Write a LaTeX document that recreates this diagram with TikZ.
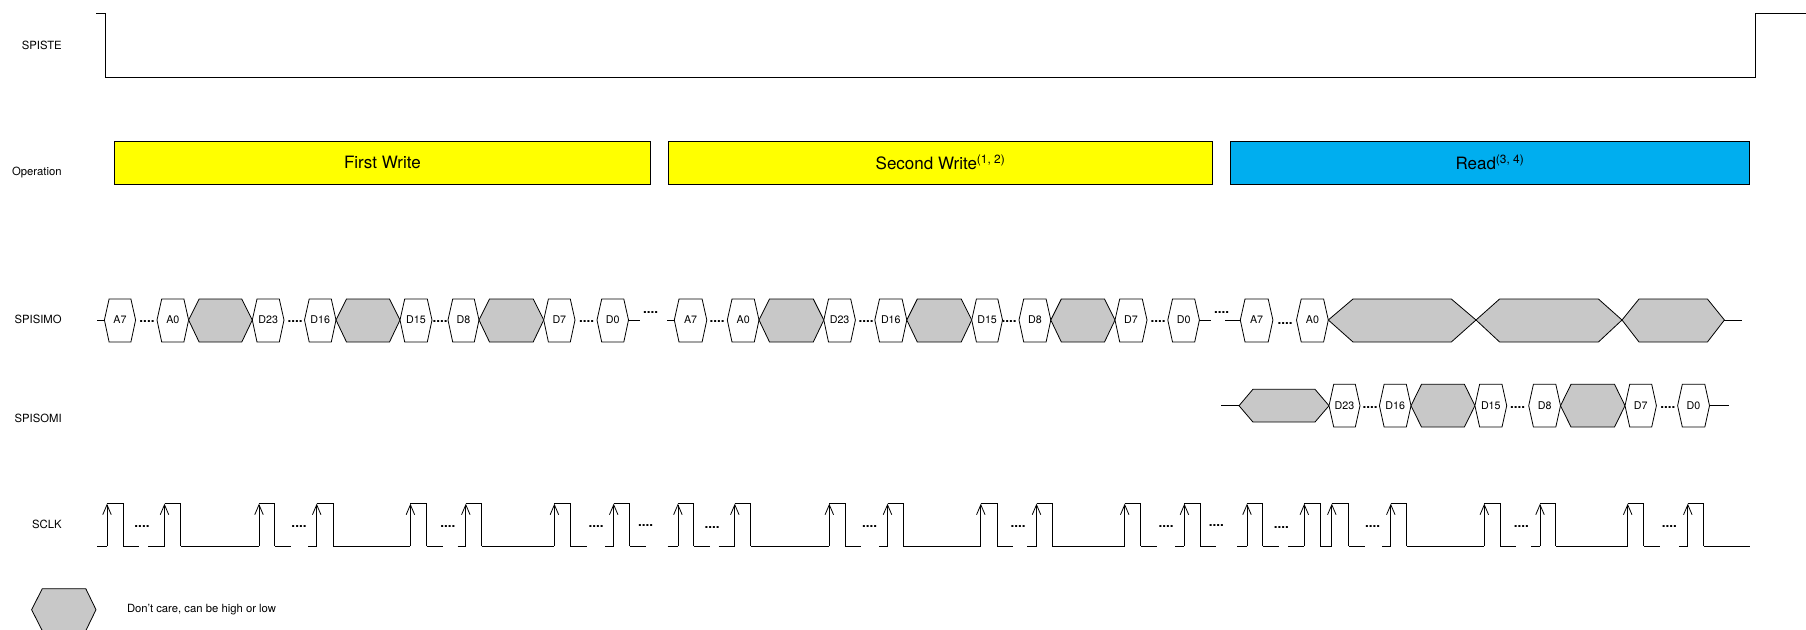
\documentclass[tikz,border=0pt]{standalone}
\usepackage{xcolor}
\usepackage{fontspec}
\setmainfont{TeX Gyre Heros}
\usetikzlibrary{positioning,arrows.meta}
\definecolor{dontcare}{RGB}{200,200,200}
\definecolor{opyellow}{RGB}{255,255,0}
\definecolor{opblue}{RGB}{0,174,239}

\begin{document}
\begin{tikzpicture}[x=1pt, y=-1pt, every node/.style={inner sep=0pt, outer sep=0pt}]
  \tikzset{
    wave/.style={draw, line width=0.8pt, line join=miter},
    siglabel/.style={anchor=east, font=\fontsize{11.3}{13}\selectfont},
    hexlabel/.style={font=\fontsize{10.7}{12}\selectfont},
    opbox/.style={draw, line width=0.8pt, minimum height=42.7pt, font=\fontsize{17}{19}\selectfont},
    gapdots/.style={anchor=base, font=\fontsize{13.5}{14}\bfseries\selectfont}
  }
  \useasboundingbox (0,0) rectangle (1806,629);

  % Signal names
  \node[siglabel] (spiste) at (61.7,45) {SPISTE};
  \node[siglabel] (operation) at (61.7,173) {Operation};
  \node[siglabel] (spisimo) at (61.7,319) {SPISIMO};
  \node[siglabel] (spisomi) at (61.7,418.3) {SPISOMI};
  \node[siglabel] (sclk) at (61.7,524) {SCLK};

  % SPISTE
  \draw[wave] (96.4,13.7) -- (105.4,13.7) -- (105.4,77.7) -- (1755.6,77.7) -- (1755.6,13.7) -- (1806,13.7);

  % Operation
  \node[opbox, fill=opyellow, minimum width=536.3pt] (first) at (382.35,162.65) {First Write};
  \node[opbox, fill=opyellow, minimum width=544.3pt] (second) at (940.45,162.65) {Second Write\textsuperscript{(1, 2)}};
  \node[opbox, fill=opblue, minimum width=519.2pt] (read) at (1489.85,162.65) {Read\textsuperscript{(3, 4)}};

  % SPISIMO
  \foreach \x/\y in {147/322,295.2/322,440/322,586.6/322,650.6/313,717.2/322,866/322,1009/322,1158/322,1221.5/313,1285/324.5} {
    \node[gapdots] at (\x,\y) {....};
  }
  \foreach \xl/\xr/\ins/\col/\txt [count=\i] in {
      104.4/135.6/4.7/white/A7, 157/188.6/4.7/white/A0, 188.6/252.3/10.5/dontcare/{},
      252.3/284/4.7/white/D23, 304.5/336/4.7/white/D16, 336/400/10.5/dontcare/{},
      400/432/4.7/white/D15, 448/479/4.7/white/D8, 479/543.7/10.5/dontcare/{},
      543.7/575/4.7/white/D7, 597/628.5/4.7/white/D0,
      674.3/706.8/4.7/white/A7, 727.3/759/4.7/white/A0, 759/823.8/10.5/dontcare/{},
      823.8/855.4/4.7/white/D23, 874.8/906.8/4.7/white/D16, 906.8/971.7/10.5/dontcare/{},
      971.7/1002.5/4.7/white/D15, 1019/1050.8/4.7/white/D8, 1050.8/1115/10.5/dontcare/{},
      1115/1147/4.7/white/D7, 1167.8/1199.4/4.7/white/D0,
      1240.3/1272.9/4.7/white/A7, 1296.5/1328.3/4.7/white/A0, 1328.3/1476/24.7/dontcare/{},
      1476/1622/23.6/dontcare/{}, 1622/1724.4/17/dontcare/{}} {
    \draw[wave, fill=\col] (\xl,320) coordinate (simo\i l) -- (\xl+\ins,299) -- (\xr-\ins,299)
      -- (\xr,320) coordinate (simo\i r) -- (\xr-\ins,342) -- (\xl+\ins,342) -- cycle;
    \node[hexlabel] (simo\i) at ({(\xl+\xr)/2},320) {\txt};
  }
  \coordinate (simoa) at (97,320);
  \coordinate (simob) at (639.5,320);
  \coordinate (simoc) at (667,320);
  \coordinate (simod) at (1210.5,320);
  \coordinate (simoe) at (1225.4,320);
  \coordinate (simof) at (1742,320);
  \draw[wave] (simoa) -- (simo1l);
  \draw[wave] (simo11r) -- (simob);
  \draw[wave] (simoc) -- (simo12l);
  \draw[wave] (simo22r) -- (simod);
  \draw[wave] (simoe) -- (simo23l);
  \draw[wave] (simo27r) -- (simof);

  % SPISOMI
  \foreach \x in {1370,1517.7,1667.8} {
    \node[gapdots] at (\x,408) {....};
  }
  \draw[wave, fill=dontcare] (1239,405.7) coordinate (somi0l) -- (1252.9,389.3) -- (1315,389.3)
    -- (1329,405.7) -- (1315,422) -- (1252.9,422) -- cycle;
  \foreach \xl/\xr/\ins/\col/\txt [count=\i] in {
      1329/1360/4.7/white/D23, 1379.4/1411/4.7/white/D16, 1411/1474.9/10.5/dontcare/{},
      1474.9/1506.7/4.7/white/D15, 1528.7/1560.5/4.7/white/D8, 1560.5/1625/10.5/dontcare/{},
      1625/1656.4/4.7/white/D7, 1677.6/1709.5/4.7/white/D0} {
    \draw[wave, fill=\col] (\xl,405.7) coordinate (somi\i l) -- (\xl+\ins,384.3) -- (\xr-\ins,384.3)
      -- (\xr,405.7) coordinate (somi\i r) -- (\xr-\ins,427) -- (\xl+\ins,427) -- cycle;
    \node[hexlabel] (somi\i) at ({(\xl+\xr)/2},405.7) {\txt};
  }
  \coordinate (somia) at (1221.4,405.7);
  \coordinate (somib) at (1729,405.7);
  \draw[wave] (somia) -- (somi0l);
  \draw[wave] (somi8r) -- (somib);

  % SCLK
  \foreach \r/\f in {107/123,164.5/180.7,259/274.8,316.7/333,410.4/426.6,465.8/481.6,554.4/570.2,
      613.7/629.7,677.9/693.7,734.8/750.6,829.3/845,887.5/903.3,980.8/997,1036.5/1052.3,1124.7/1140.5,
      1184.4/1200.2,1247/1262.7,1304.3/1320,1331.8/1348.7,1390.8/1406.5,1484.3/1500.4,1540/1555.8,
      1627.7/1643.8,1687.8/1703.6} {
    \draw[wave] (\r,503.7) -- (\f,503.7) -- (\f,546);
    \draw[wave, -{Straight Barb[length=10pt,width=8.5pt]}] (\r,546) -- (\r,503.7);
  }
  \foreach \a/\b in {97/107,123/139,148.3/164.5,180.7/259,274.8/291,308.4/316.7,333/410.4,426.6/442.9,
      457.5/465.8,481.6/554.4,570.2/586.8,605.4/613.7,629.7/645.9,667.6/677.9,693.7/709.5,718.6/734.8,
      750.6/829.3,845/861.4,878.8/887.5,903.3/980.8,997/1013.2,1027.4/1036.5,1052.3/1124.7,1140.5/1156.7,
      1175.3/1184.4,1200.2/1216,1237/1247,1262.7/1279.2,1288/1304.3,1320/1331.8,1348.7/1364.9,
      1382/1390.8,1406.5/1484.3,1500.4/1516,1531/1540,1555.8/1627.7,1643.8/1660,1678.8/1687.8,1703.6/1750} {
    \draw[wave] (\a,546) -- (\b,546);
  }
  \foreach \x/\y in {142/527,299/527,447.8/527,596/527,645.7/526.5,712/528,869.5/527,1018.2/527,
      1166/527,1216.4/526.5,1281.4/528,1372.5/527,1521.4/527,1669.4/527} {
    \node[gapdots] at (\x,\y) {....};
  }

  % Legend
  \draw[wave, fill=dontcare] (31.6,609.7) -- (42.3,588.7) -- (85.8,588.7) -- (96,609.7) -- (85.8,630.7) -- (42.3,630.7) -- cycle;
  \node[siglabel, anchor=west] (legend) at (127,610) {Don't care, can be high or low};
\end{tikzpicture}
\end{document}
